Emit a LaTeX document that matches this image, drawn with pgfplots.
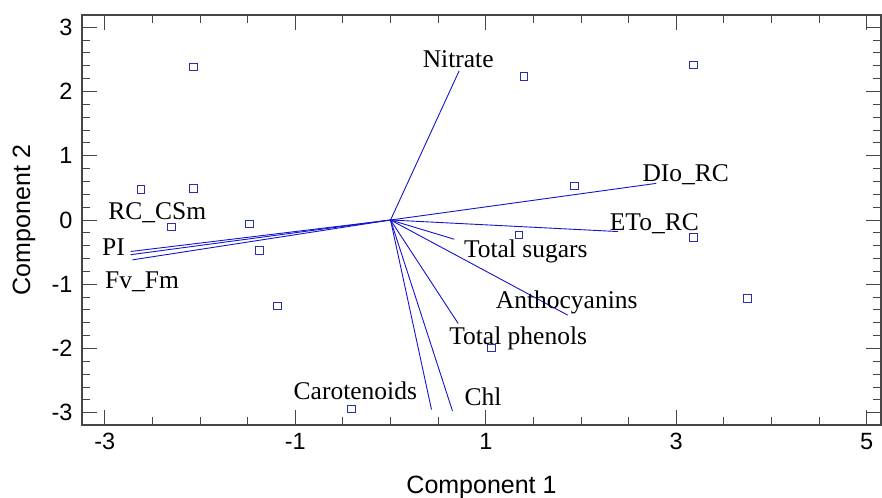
\documentclass[border=0pt]{standalone}
\usepackage{fontspec}
\setmainfont{Liberation Serif}
\setsansfont{Liberation Sans}
\usepackage{pgfplots}
\pgfplotsset{compat=1.18}
\begin{document}
\begin{tikzpicture}
\definecolor{vecblue}{RGB}{20,20,205}
\definecolor{ptblue}{RGB}{45,45,175}
\definecolor{frame}{RGB}{70,70,70}
\tikzset{
    vec/.style={vecblue, line width=0.9pt},
    lab/.style={anchor=base, font=\fontsize{25.5}{30}\selectfont, text=black},
}
\begin{axis}[
    scale only axis,
    width=799pt, height=410pt,
    xmin=-3.24, xmax=5.15,
    ymin=-3.19, ymax=3.19,
    xtick={-3,-1,1,3,5},
    ytick={-3,-2,-1,0,1,2,3},
    minor x tick num=3,
    minor y tick num=4,
    tick align=inside,
    major tick length=15pt,
    minor tick length=8pt,
    axis line style={frame, line width=1.2pt},
    every tick/.style={frame, line width=1pt},
    /pgf/number format/assume math mode=true,
    ticklabel style={font=\sffamily\fontsize{23.5}{27}\selectfont},
    xticklabel style={yshift=-5pt},
    yticklabel style={xshift=-6pt},
    xlabel={Component 1},
    ylabel={Component 2},
    every axis x label/.style={at={(axis description cs:0.5,-0.1512)}, anchor=center, font=\sffamily\fontsize{25}{29}\selectfont},
    every axis y label/.style={at={(axis description cs:-0.0726,0.5)}, rotate=90, anchor=center, font=\sffamily\fontsize{25}{29}\selectfont},
]
% loading vectors
\addplot[vec, no marks] coordinates {(0,0) (0.72,2.32)};    % Nitrate
\addplot[vec, no marks] coordinates {(0,0) (2.79,0.57)};    % DIo_RC
\addplot[vec, no marks] coordinates {(0,0) (2.39,-0.18)};   % ETo_RC
\addplot[vec, no marks] coordinates {(0,0) (0.67,-0.30)};   % Total sugars
\addplot[vec, no marks] coordinates {(0,0) (1.86,-1.48)};   % Anthocyanins
\addplot[vec, no marks] coordinates {(0,0) (0.71,-1.61)};   % Total phenols
\addplot[vec, no marks] coordinates {(0,0) (0.43,-2.95)};   % Carotenoids
\addplot[vec, no marks] coordinates {(0,0) (0.65,-2.97)};   % Chl
\addplot[vec, no marks] coordinates {(0,0) (-2.73,-0.49)};  % RC_CSm
\addplot[vec, no marks] coordinates {(0,0) (-2.73,-0.54)};  % PI
\addplot[vec, no marks] coordinates {(0,0) (-2.71,-0.62)};  % Fv_Fm
% scores
\addplot[only marks, mark=square, mark size=3.8pt, mark options={ptblue, line width=0.9pt}]
coordinates {
(-2.07,2.38) (-2.62,0.48) (-2.07,0.49) (-2.30,-0.11) (-1.48,-0.06)
(-1.375,-0.47) (-1.19,-1.34) (-0.41,-2.94) (1.06,-1.99) (1.40,2.23)
(1.93,0.53) (1.35,-0.23) (3.18,2.41) (3.18,-0.275) (3.75,-1.22)
};
% labels
\node[lab] at (axis cs:0.71,2.38) {Nitrate};
\node[lab] at (axis cs:3.10,0.60) {DIo\_RC};
\node[lab] at (axis cs:2.77,-0.16) {ETo\_RC};
\node[lab] at (axis cs:1.42,-0.59) {Total sugars};
\node[lab] at (axis cs:1.85,-1.38) {Anthocyanins};
\node[lab] at (axis cs:1.34,-1.94) {Total phenols};
\node[lab] at (axis cs:-0.37,-2.80) {Carotenoids};
\node[lab] at (axis cs:0.97,-2.89) {Chl};
\node[lab] at (axis cs:-2.45,0.01) {RC\_CSm};
\node[lab] at (axis cs:-2.91,-0.56) {PI};
\node[lab] at (axis cs:-2.61,-1.06) {Fv\_Fm};
\end{axis}
\pgfresetboundingbox
\path[use as bounding box] ([shift={(-82pt,-72pt)}]current axis.south west) rectangle ([shift={(1pt,15pt)}]current axis.north east);
\end{tikzpicture}
\end{document}
